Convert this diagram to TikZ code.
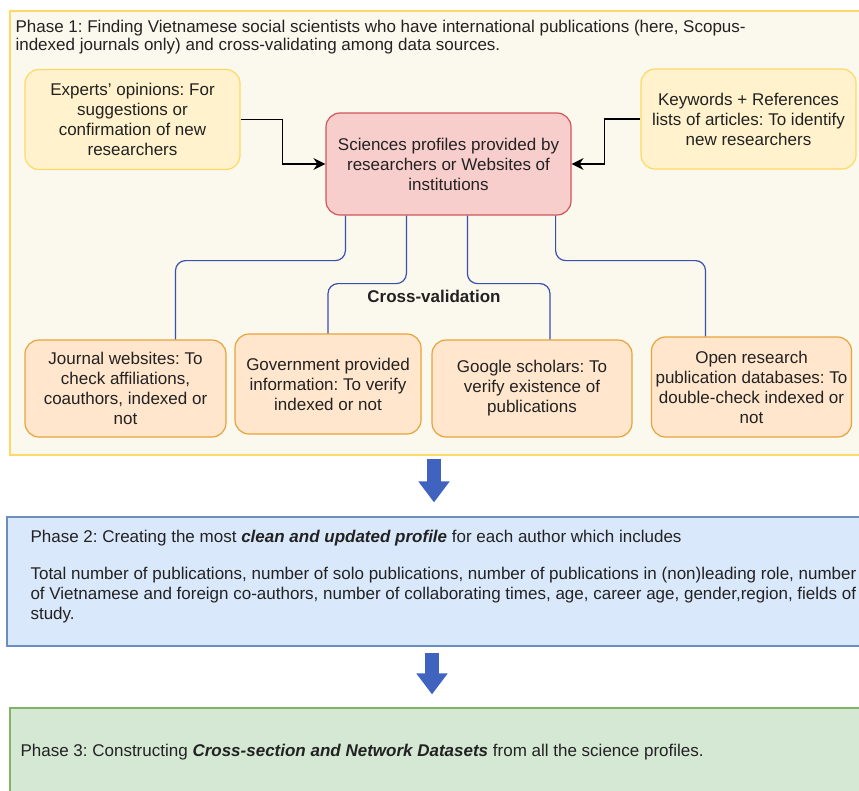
\documentclass[tikz,border=0pt]{standalone}
\usepackage{fontspec}
\setmainfont{Liberation Sans}
\usetikzlibrary{arrows.meta}
\frenchspacing

\definecolor{phaseOneFill}{HTML}{FBF8ED}
\definecolor{yellowFill}{HTML}{FFF2CC}
\definecolor{yellowLine}{HTML}{FFD966}
\definecolor{pinkFill}{HTML}{F8CECC}
\definecolor{pinkLine}{HTML}{D0555A}
\definecolor{orangeFill}{HTML}{FFE6CC}
\definecolor{orangeLine}{HTML}{E8A33A}
\definecolor{blueFill}{HTML}{DAE8FC}
\definecolor{blueLine}{HTML}{6C8EBF}
\definecolor{greenFill}{HTML}{D5E8D4}
\definecolor{greenLine}{HTML}{82B366}
\definecolor{linkBlue}{HTML}{3A4FB0}
\definecolor{bigArrowBlue}{HTML}{3F63BE}
\definecolor{textGrey}{HTML}{222222}

\tikzset{
  phase/.style = {draw, line width = 1.2pt, inner sep = 0pt},
  box/.style = {draw, line width = 1.2pt, rounded corners = 14pt, align = center, inner sep = 2pt},
  sourcebox/.style = {box, fill = yellowFill, draw = yellowLine, minimum width = 215pt, minimum height = 100pt},
  checkbox/.style = {box, fill = orangeFill, draw = orangeLine},
  link/.style = {draw = linkBlue, line width = 1.2pt, rounded corners = 10pt},
  feed/.style = {draw = black, line width = 1.3pt, -{Stealth[length = 12pt, width = 12pt, inset = 4pt]}},
  bigarrow/.style = {draw = bigArrowBlue, line width = 14pt, -{Triangle[width = 30pt, length = 21pt]}}
}

\begin{document}
\begin{tikzpicture}[x = 1pt, y = -1pt, font = \fontsize{17}{20}\selectfont, text = textGrey]
  \useasboundingbox (0,0) rectangle (859,790);
  \clip (0,0) rectangle (859,790);

  % phase 1
  \node[phase, fill = phaseOneFill, draw = yellowLine, minimum width = 870pt, minimum height = 444pt](phaseOne) at (445,233) {};
  \node[anchor = north west, align = left](phaseOneTitle) at (12,17) {Phase 1: Finding Vietnamese social scientists who have international publications (here, Scopus-\\[-2pt]indexed journals only) and cross-validating among data sources.};

  \node[sourcebox](expertsOpinion) at (132.5,119.5) {Experts' opinions: For\\suggestions or\\confirmation of new\\researchers};
  \node[sourcebox](keywordsRefs) at (748.5,119) {Keywords + References\\lists of articles: To identify\\new researchers};
  \node[box, fill = pinkFill, draw = pinkLine, minimum width = 245pt, minimum height = 102pt](scienceProfiles) at (448.5,164) {Sciences profiles provided by\\researchers or Websites of\\institutions};

  \node[checkbox, minimum width = 201pt, minimum height = 97pt](journalWebsites) at (125.5,388.5) {Journal websites: To\\check affiliations,\\coauthors, indexed or\\not};
  \node[checkbox, minimum width = 186pt, minimum height = 100pt](governmentInfo) at (328,384) {Government provided\\information: To verify\\indexed or not};
  \node[checkbox, minimum width = 200pt, minimum height = 97pt](googleScholars) at (532,388.5) {Google scholars: To\\verify existence of\\publications};
  \node[checkbox, minimum width = 200pt, minimum height = 100pt](openDatabases) at (751.5,387) {Open research\\publication databases: To\\double-check indexed or\\not};

  \node[font = \fontsize{17}{20}\selectfont\bfseries](crossValidation) at (434,296) {Cross-validation};

  \draw[feed] (expertsOpinion.east) -- ++(42,0) |- (scienceProfiles.west);
  \draw[feed] (keywordsRefs.west) -- ++(-36,0) |- (scienceProfiles.east);

  \draw[link] ([xshift = 20pt]scienceProfiles.south west) -- ++(0,45) -| ([xshift = 50pt]journalWebsites.north);
  \draw[link] ([xshift = 81pt]scienceProfiles.south west) -- ++(0,68) -| (governmentInfo.north);
  \draw[link] ([xshift = 142pt]scienceProfiles.south west) -- ++(0,68) -| ([xshift = 18pt]googleScholars.north);
  \draw[link] ([xshift = -16pt]scienceProfiles.south east) -- ++(0,45) -| ([xshift = -46pt]openDatabases.north);

  % phase 2
  \node[phase, fill = blueFill, draw = blueLine, minimum width = 873pt, minimum height = 129pt](phaseTwo) at (443.5,581.5) {};
  \node[anchor = north west, align = left](phaseTwoText) at (27,527) {Phase 2: Creating the most \textbf{\textit{clean and updated profile}} for each author which includes\\[17pt]
    Total number of publications, number of solo publications, number of publications in (non)leading role, number\\
    of Vietnamese and foreign co-authors, number of collaborating times, age, career age, gender,region, fields of\\
    study.};

  % phase 3
  \node[phase, fill = greenFill, draw = greenLine, minimum width = 870pt, minimum height = 92pt](phaseThree) at (445,754) {};
  \node[anchor = west](phaseThreeText) at (17,752) {Phase 3: Constructing \textbf{\textit{Cross-section and Network Datasets}} from all the science profiles.};

  \draw[bigarrow, shorten < = 3pt, shorten > = 14pt] ([xshift = -11pt]phaseOne.south) -- ([xshift = -9.5pt]phaseTwo.north);
  \draw[bigarrow, shorten < = 6pt, shorten > = 13pt] ([xshift = -11.5pt]phaseTwo.south) -- ([xshift = -13pt]phaseThree.north);
\end{tikzpicture}
\end{document}
